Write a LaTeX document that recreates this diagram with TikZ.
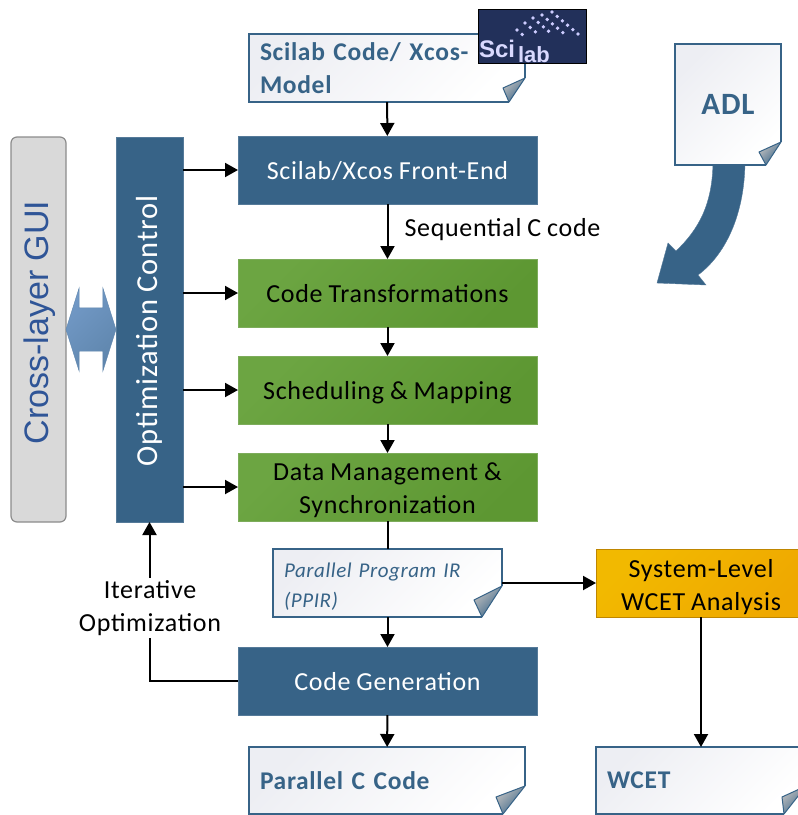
\documentclass[tikz,border=0pt]{standalone}
\usepackage{fontspec}
\setmainfont[LetterSpace=2.7,WordSpace=0.9]{Carlito}
\newfontfamily\guifont{Liberation Sans}
\usepackage{tikz}
\usepackage{xcolor}
\usetikzlibrary{arrows.meta,positioning,shapes.arrows}
\definecolor{flowblue}{HTML}{376387}
\definecolor{flowgreen}{HTML}{5D9732}
\definecolor{flowgreenlight}{HTML}{6CA542}
\definecolor{flowgold}{HTML}{EFA800}
\definecolor{logonavy}{HTML}{22305A}
\definecolor{guiblue}{HTML}{2F5597}
\definecolor{notegrey}{HTML}{EDEEF3}
\definecolor{linklight}{HTML}{7299C6}
\definecolor{linkdark}{HTML}{5F86AD}
\tikzset{
    every node/.style = {inner sep=0pt, outer sep=0pt},
    flow-box/.style = {rectangle, minimum width=299pt, minimum height=68pt, align=center, text height=25pt, text depth=7pt, font=\fontsize{26}{33}\selectfont},
    two-lines/.style = {text height=59pt, text depth=7pt},
    blue-box/.style = {flow-box, fill=flowblue, draw=flowblue!85!white, text=white},
    green-box/.style = {flow-box, left color=flowgreenlight, right color=flowgreen, shading angle=45, draw=flowgreen!80!white, text=black},
    gold-box/.style = {flow-box, two-lines, minimum width=210pt, left color=flowgold!80!yellow, right color=flowgold, shading angle=45, draw=flowgold!80!black, text=black},
    note-box/.style = {rectangle, left color=notegrey, middle color=white, right color=white, shading angle=45, align=left, inner xsep=11pt, text=flowblue, font=\bfseries\fontsize{25.5}{33}\selectfont},
    note-line/.style = {draw=flowblue, line width=1.3pt, line join=miter},
    flow-line/.style = {draw=black, line width=2pt},
    flow-arrow/.style = {flow-line, -{Triangle[length=13pt,width=14pt]}},
    flow-label/.style = {align=center, font=\fontsize{26}{33}\selectfont},
    logo-label/.style = {text=white!85!blue, font=\guifont\bfseries\fontsize{24}{24}\selectfont},
}
\newcommand{\notefold}[5]{%
    \fill[white] (#1.south east) -- ([xshift=-#2pt]#1.south east) -- ([yshift=#3pt]#1.south east) -- cycle;
    \draw[note-line] ([xshift=-#2pt]#1.south east) -- (#1.south west) -- (#1.north west) -- (#1.north east) -- ([yshift=#3pt]#1.south east);
    \draw[note-line, line join=round, line width=1pt, left color=black!25!white, right color=flowblue, shading angle=45]
        ([yshift=#3pt]#1.south east) -- ([xshift=-#4pt,yshift=#5pt]#1.south east) -- ([xshift=-#2pt]#1.south east) -- cycle;
}

\begin{document}
\begin{tikzpicture}[x=1pt, y=-1pt]
\useasboundingbox (0,0) rectangle (798,815);

% ADL note and its bent arrow
\fill [flowblue, draw=flowblue!85!white] (745,160) .. controls (745,215) and (725,255) .. (698,275) -- (706,285) -- (657,283) -- (668,243) -- (676,251) .. controls (698,230) and (713,205) .. (713,160) -- cycle;
\node [note-box, minimum width=106pt, minimum height=121pt, inner xsep=0pt, font=\bfseries\fontsize{31}{32}\selectfont] (adl-note) at (728,104.5) {ADL};
\notefold{adl-note}{15}{23}{22}{13}

% main flow
\node [note-box, minimum width=276pt, minimum height=68pt, text width=254pt] (scilab-note) at (387,68) {Scilab Code/ Xcos-\\Model};
\notefold{scilab-note}{16}{24}{22}{14}
\node [blue-box] (front-end) at (387.5,170) {Scilab/Xcos Front-End};
\node [green-box, below=55pt of front-end] (transform) {Code Transformations};
\node [green-box, below=29pt of transform] (mapping) {Scheduling \& Mapping};
\node [green-box, two-lines, below=29pt of mapping] (data-mgmt) {Data Management \&\\Synchronization};
\node [note-box, minimum width=229pt, minimum height=68pt, text width=207pt, text height=15pt, text depth=26pt, font=\itshape\fontsize{21}{30}\selectfont] (ppir-note) at (387.5,583) {Parallel Program IR\\(PPIR)};
\notefold{ppir-note}{20}{31}{28}{17}
\node [blue-box] (code-gen) at (387.5,681) {Code Generation};
\node [note-box, minimum width=276pt, minimum height=67pt, text width=254pt] (c-note) at (387,780.5) {Parallel C Code};
\notefold{c-note}{22}{28}{29}{17}

% WCET side
\node [gold-box, text height=61pt] (wcet-box) at (701,583) {System-Level\\WCET Analysis};
\node [note-box, minimum width=210pt, minimum height=67pt, text width=188pt] (wcet-note) at (701,780.5) {WCET};
\notefold{wcet-note}{22}{28}{24}{17}

% left column
\node [rectangle, rounded corners=6pt, fill=black!15, draw=black!45, line width=1.2pt, minimum width=55pt, minimum height=385pt] (gui) at (38.5,329.5) {};
\node [rotate=90, yshift=-1pt, xshift=7pt, text=guiblue, font=\guifont\fontsize{34}{34}\selectfont] (gui-text) at (gui.center) {Cross-layer GUI};
\node [rectangle, fill=flowblue, draw=flowblue!85!white, minimum width=67pt, minimum height=385pt] (opt-ctl) at (149.5,329.5) {};
\node [rotate=90, xshift=-1.5pt, text=white, font=\fontsize{30.5}{30}\selectfont] (opt-ctl-text) at (opt-ctl.center) {Optimization Control};
\node [double arrow, inner ysep=21.5pt, double arrow head extend=20pt, double arrow tip angle=145, minimum width=83pt, minimum height=50pt, left color=linklight, right color=linkdark, shading angle=45, draw=linkdark] (gui-link) at (91,329.5) {};

% logo over the first note
\node [rectangle, fill=logonavy, draw=black, line width=1.6pt, minimum width=108pt, minimum height=54pt] (logo) at (532.5,36.5) {};
\foreach \col/\xa/\ya in {0/517/30, 1/525/23, 2/533/18, 3/542/15, 4/552/12} {
    \pgfmathtruncatemacro{\rowmax}{\col+1}
    \foreach \row in {0,...,\rowmax} {
        \fill [white!80!blue] (\xa+5.2*\row, \ya+4.4*\row) circle (1.9pt);
    }
}
\node [logo-label, anchor=base west] (logo-sci) at (479,57) {Sci};
\node [logo-label, anchor=base west, font=\guifont\bfseries\fontsize{22}{22}\selectfont] (logo-lab) at (518,62) {lab};

% connectors
\draw [flow-arrow] (scilab-note) -- (front-end);
\draw [flow-arrow] (front-end) -- (transform) node [pos=0.45, anchor=west, xshift=17pt, yshift=-1pt, flow-label] (seq-label) {Sequential C code};
\draw [flow-arrow] (transform) -- (mapping);
\draw [flow-arrow] (mapping) -- (data-mgmt);
\draw [flow-line] (data-mgmt) -- (ppir-note);
\draw [flow-arrow] (ppir-note) -- (code-gen);
\draw [flow-arrow] (code-gen) -- (c-note);
\draw [flow-arrow] (ppir-note.east |- wcet-box.west) -- (wcet-box.west);
\draw [flow-arrow] (wcet-box) -- (wcet-note);
\foreach \target in {front-end, transform, mapping, data-mgmt} {
    \draw [flow-arrow] (\target.west -| opt-ctl.east) -- (\target.west);
}
\draw [flow-arrow] (code-gen.west) -| (opt-ctl.south);
\node [flow-label, fill=white, inner sep=2pt] (iter-label) at (150,608) {Iterative\\Optimization};
\end{tikzpicture}
\end{document}
